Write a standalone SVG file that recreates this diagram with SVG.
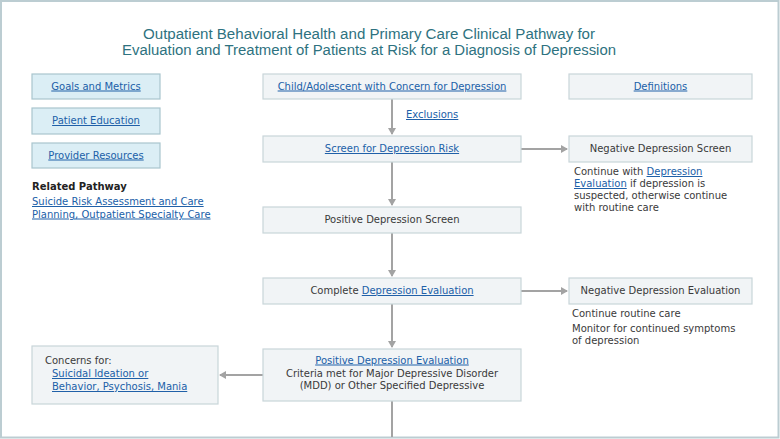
<svg xmlns="http://www.w3.org/2000/svg" width="780" height="439" viewBox="0 0 780 439">
<style>
.frame{fill:#fff;stroke:#bccdd2;stroke-width:2}
.title{font-family:"Liberation Sans","Open Sans",sans-serif;font-size:14px;fill:#2e7280;text-anchor:middle}
.t{font-family:"DejaVu Sans","Liberation Sans",sans-serif;font-size:10px;fill:#3a3a3a}
.c{text-anchor:middle}
.lk{fill:#2060a8;text-decoration:underline}
.b{font-weight:bold;fill:#222}
.box{fill:#f1f4f6;stroke:#c9d5d9;stroke-width:1.2}
.blue{fill:#dbeef5;stroke:#a9c5ce;stroke-width:1.2}
.conn{stroke:#a3a3a3;stroke-width:2;fill:none}
</style>
<defs>
<marker id="ah" markerWidth="8" markerHeight="8" refX="6" refY="4" orient="auto" markerUnits="userSpaceOnUse">
<path d="M0,0 L7,4 L0,8 Z" fill="#a3a3a3"/>
</marker>
</defs>
<rect class="frame" x="1" y="1" width="777.5" height="436.5"/>
<g id="title">
<text class="title" x="369" y="38.5" textLength="452" lengthAdjust="spacingAndGlyphs">Outpatient Behavioral Health and Primary Care Clinical Pathway for</text>
<text class="title" x="369" y="55" textLength="494" lengthAdjust="spacingAndGlyphs">Evaluation and Treatment of Patients at Risk for a Diagnosis of Depression</text>
</g>
<g id="connectors">
<line class="conn" x1="392" y1="99" x2="392" y2="134" marker-end="url(#ah)"/>
<line class="conn" x1="392" y1="162" x2="392" y2="205" marker-end="url(#ah)"/>
<line class="conn" x1="392" y1="233" x2="392" y2="276" marker-end="url(#ah)"/>
<line class="conn" x1="392" y1="304" x2="392" y2="347" marker-end="url(#ah)"/>
<line class="conn" x1="392" y1="401" x2="392" y2="437"/>
<line class="conn" x1="521" y1="149" x2="567" y2="149" marker-end="url(#ah)"/>
<line class="conn" x1="521" y1="291" x2="567" y2="291" marker-end="url(#ah)"/>
<line class="conn" x1="263" y1="375" x2="220" y2="375" marker-end="url(#ah)"/>
</g>
<g id="goals">
<rect class="blue" x="32" y="74" width="128" height="25"/>
<text class="t c lk" x="96" y="89.5">Goals and Metrics</text>
</g>
<g id="education">
<rect class="blue" x="32" y="108" width="128" height="26"/>
<text class="t c lk" x="96" y="124">Patient Education</text>
</g>
<g id="resources">
<rect class="blue" x="32" y="143" width="128" height="25"/>
<text class="t c lk" x="96" y="158.5">Provider Resources</text>
</g>
<g id="related">
<text class="t b" x="32" y="190">Related Pathway</text>
<text class="t lk" x="32" y="205">Suicide Risk Assessment and Care</text>
<text class="t lk" x="32" y="217.5">Planning, Outpatient Specialty Care</text>
</g>
<g id="child">
<rect class="box" x="263" y="74" width="258" height="25"/>
<text class="t c lk" x="392" y="89.5">Child/Adolescent with Concern for Depression</text>
</g>
<g id="exclusions">
<text class="t lk" x="406" y="118">Exclusions</text>
</g>
<g id="definitions">
<rect class="box" x="569" y="74" width="183" height="25"/>
<text class="t c lk" x="660.5" y="89.5">Definitions</text>
</g>
<g id="screen">
<rect class="box" x="263" y="136" width="258" height="26"/>
<text class="t c lk" x="392" y="152">Screen for Depression Risk</text>
</g>
<g id="negscreen">
<rect class="box" x="569" y="136" width="183" height="26"/>
<text class="t c" x="660.5" y="152">Negative Depression Screen</text>
<text class="t" x="574" y="175">Continue with <tspan class="lk">Depression</tspan></text>
<text class="t" x="574" y="187"><tspan class="lk">Evaluation</tspan> if depression is</text>
<text class="t" x="574" y="199">suspected, otherwise continue</text>
<text class="t" x="574" y="211">with routine care</text>
</g>
<g id="posscreen">
<rect class="box" x="263" y="207" width="258" height="26"/>
<text class="t c" x="392" y="223">Positive Depression Screen</text>
</g>
<g id="complete">
<rect class="box" x="263" y="278" width="258" height="26"/>
<text class="t c" x="392" y="294">Complete <tspan class="lk">Depression Evaluation</tspan></text>
</g>
<g id="negeval">
<rect class="box" x="569" y="278" width="183" height="26"/>
<text class="t c" x="660.5" y="294">Negative Depression Evaluation</text>
<text class="t" x="572" y="317">Continue routine care</text>
<text class="t" x="572" y="332">Monitor for continued symptoms</text>
<text class="t" x="572" y="344">of depression</text>
</g>
<g id="poseval">
<rect class="box" x="263" y="349" width="258" height="52"/>
<text class="t c lk" x="392" y="363.5">Positive Depression Evaluation</text>
<text class="t c" x="392" y="376.5">Criteria met for Major Depressive Disorder</text>
<text class="t c" x="392" y="389">(MDD) or Other Specified Depressive</text>
</g>
<g id="concerns">
<rect class="box" x="32" y="346" width="186" height="58"/>
<text class="t" x="45" y="363.5">Concerns for:</text>
<text class="t lk" x="52" y="377">Suicidal Ideation or</text>
<text class="t lk" x="52" y="390">Behavior, Psychosis, Mania</text>
</g>
</svg>
